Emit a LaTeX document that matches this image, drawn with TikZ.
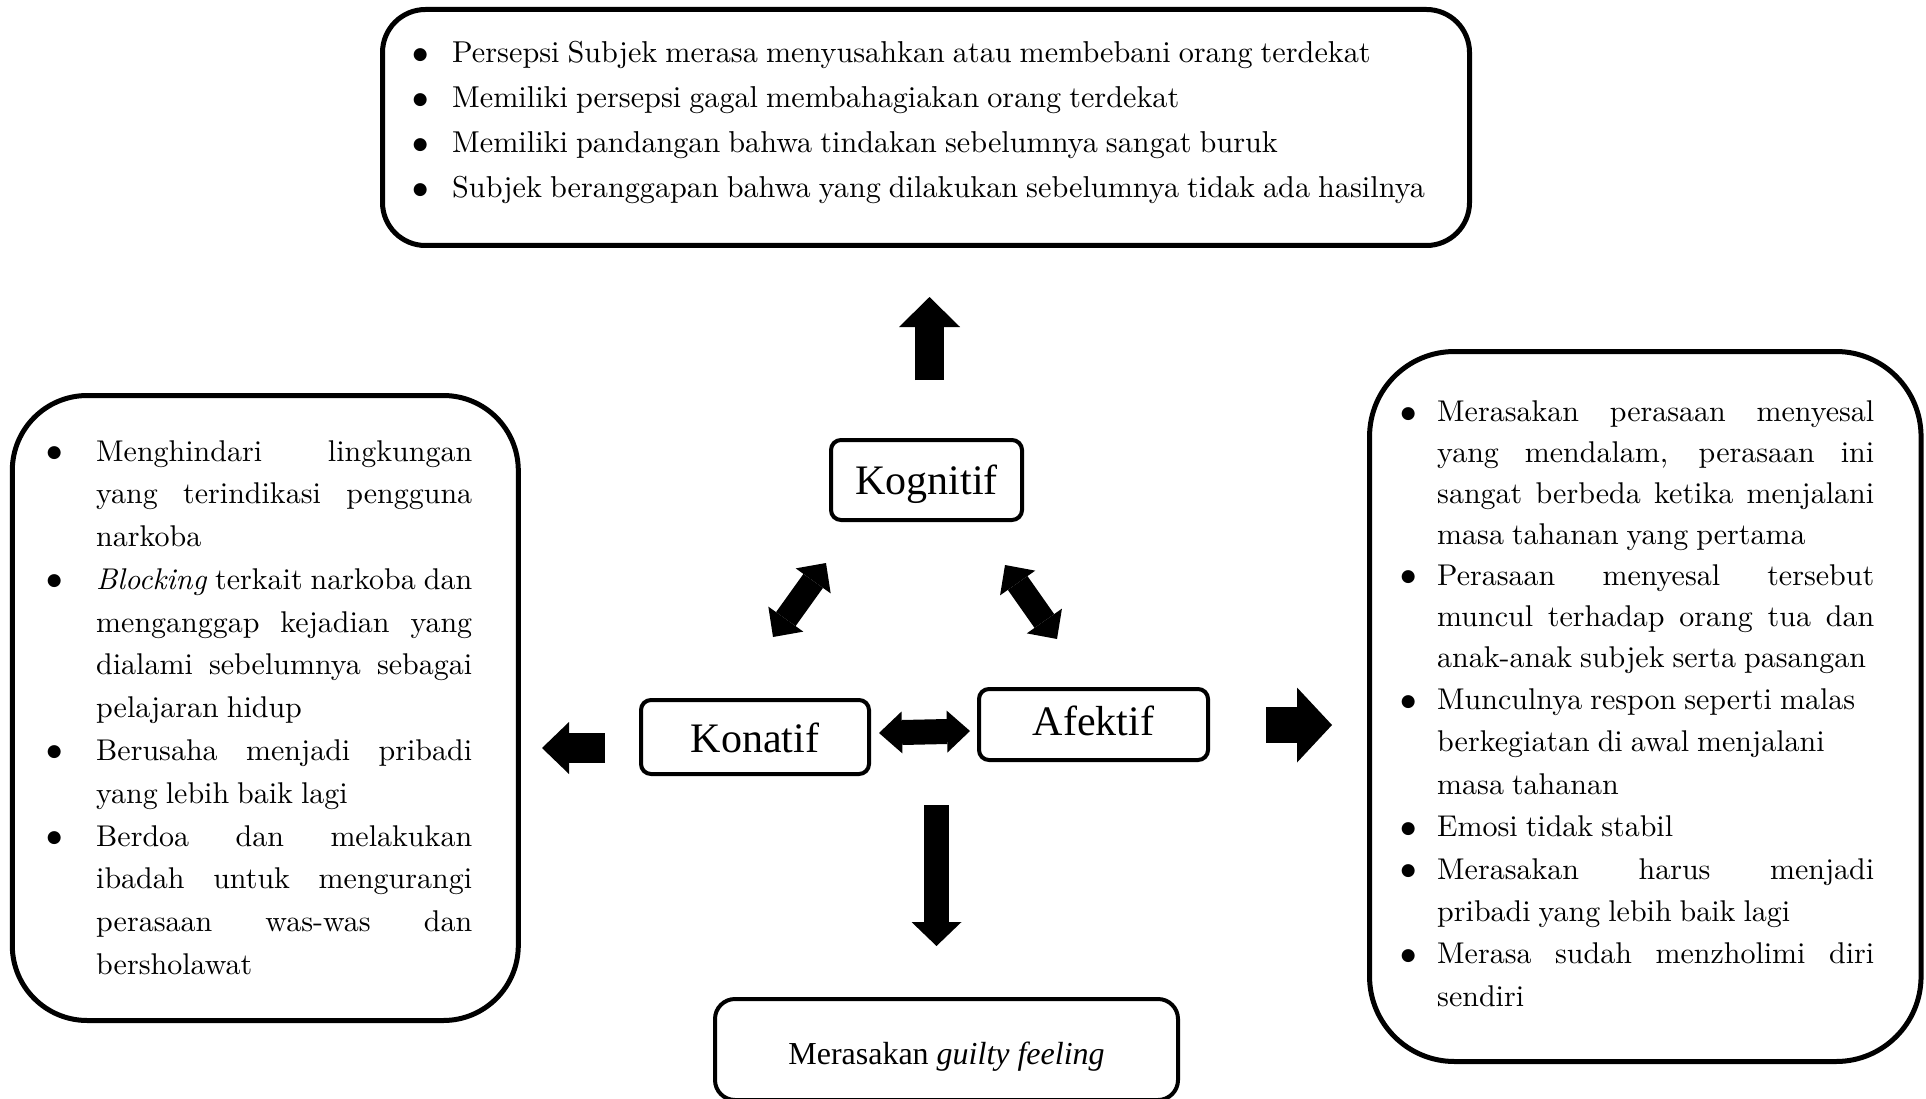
\documentclass[tikz,border=0pt]{standalone}
\usepackage{fontspec}
\setmainfont{lmroman10-regular.otf}[BoldFont=lmroman10-bold.otf,
  ItalicFont=lmroman10-italic.otf, WordSpace=0.8]
\newfontfamily\tms{Liberation Serif}
\newfontfamily\djv{DejaVu Sans}
\usetikzlibrary{arrows.meta}
\newcommand\bul[1]{\llap{\makebox[#1pt][c]{\raisebox{3.5pt}{\djv\fontsize{17}{17}\selectfont ●}}}}
\newcommand\jl[2]{\makebox[#1pt][s]{#2}}
\begin{document}
\begin{tikzpicture}[x=1pt,y=-1pt,
  bigbox/.style={draw, line width=5pt, inner sep=0pt},
  termbox/.style={draw, line width=4pt, rounded corners=10pt, inner sep=0pt,
    font=\tms\fontsize{42}{42}\selectfont, text depth=0pt},
  listtext/.style={inner sep=0pt, anchor=base west},
  barrow/.style n args={3}{line width=#1pt,
    -{Triangle[length=#2pt,width=#3pt,line width=0pt]}},
  dbarrow/.style n args={3}{line width=#1pt,
    {Triangle[length=#2pt,width=#3pt,line width=0pt]}-{Triangle[length=#2pt,width=#3pt,line width=0pt]}}
]
\useasboundingbox (0,0) rectangle (1926,1099);

% boxes
\node[bigbox, rounded corners=43pt, minimum width=1087pt, minimum height=236pt] (topbox) at (926,127.5) {};
\node[bigbox, rounded corners=75pt, minimum width=506pt, minimum height=625pt] (leftbox) at (265.3,708) {};
\node[bigbox, rounded corners=85pt, minimum width=551.5pt, minimum height=710pt] (rightbox) at (1645.3,706.5) {};

\node[termbox, minimum width=191pt, minimum height=80pt, text height=28pt] (kog) at (926.5,480) {Kognitif};
\node[termbox, minimum width=229pt, minimum height=71pt, text height=21pt] (afe) at (1093.5,724.5) {Afektif};
\node[termbox, minimum width=228pt, minimum height=74pt, text height=30pt] (kon) at (755,737) {Konatif};
\node[draw, line width=4pt, rounded corners=20pt, minimum width=463pt, minimum height=101pt,
  inner sep=0pt, font=\tms\fontsize{32}{32}\selectfont, text height=29pt, text depth=0pt]
  (guilty) at (946.5,1049.5) {Merasakan \textit{guilty feeling}};

% top list
\node[listtext] (toptext) at (452,63) {\fontsize{30.2}{45}\selectfont
\begin{tabular}[t]{@{}l@{}}
\bul{64}Persepsi Subjek merasa menyusahkan atau membebani orang terdekat\\
\bul{64}Memiliki persepsi gagal membahagiakan orang terdekat\\
\bul{64}Memiliki pandangan bahwa tindakan sebelumnya sangat buruk\\
\bul{64}Subjek beranggapan bahwa yang dilakukan sebelumnya tidak ada hasilnya
\end{tabular}};

% left list
\node[listtext] (lefttext) at (96,461) {\fontsize{30}{42.78}\selectfont
\begin{tabular}[t]{@{}l@{}}
\bul{84}\jl{376}{Menghindari lingkungan}\\
\jl{376}{yang terindikasi pengguna}\\
narkoba\\
\bul{84}\jl{376}{\textit{Blocking} terkait narkoba dan}\\
\jl{376}{menganggap kejadian yang}\\
\jl{376}{dialami sebelumnya sebagai}\\
pelajaran hidup\\
\bul{84}\jl{376}{Berusaha menjadi pribadi}\\
yang lebih baik lagi\\
\bul{84}\jl{376}{Berdoa dan melakukan}\\
\jl{376}{ibadah untuk mengurangi}\\
\jl{376}{perasaan was-was dan}\\
bersholawat
\end{tabular}};

% right list
\node[listtext] (righttext) at (1437,421.7) {\fontsize{30}{40.9}\selectfont
\begin{tabular}[t]{@{}l@{}}
\bul{58}\jl{437}{Merasakan perasaan menyesal}\\
\jl{437}{yang mendalam, perasaan ini}\\
\jl{437}{sangat berbeda ketika menjalani}\\
masa tahanan yang pertama\\
\bul{58}\jl{437}{Perasaan menyesal tersebut}\\
\jl{437}{muncul terhadap orang tua dan}\\
anak-anak subjek serta pasangan\\[1.5pt]
\bul{58}Munculnya respon seperti malas\\[1.5pt]
berkegiatan di awal menjalani\\[1.5pt]
masa tahanan\\[1.5pt]
\bul{58}Emosi tidak stabil\\[1.5pt]
\bul{58}\jl{437}{Merasakan harus menjadi}\\[1.5pt]
pribadi yang lebih baik lagi\\[1.5pt]
\bul{58}\jl{437}{Merasa sudah menzholimi diri}\\[1.5pt]
sendiri
\end{tabular}};

% arrow end points
\coordinate (upT) at (929.5,380);  \coordinate (upH) at (929.5,297);
\coordinate (dnT) at (936.5,805);  \coordinate (dnH) at (936.5,946);
\coordinate (lfT) at (605,748);    \coordinate (lfH) at (542,748);
\coordinate (rtT) at (1266,725);   \coordinate (rtH) at (1332,725);
\coordinate (hA) at (879,733);     \coordinate (hB) at (970,731);
\coordinate (dlA) at (773,637);    \coordinate (dlB) at (826,563);
\coordinate (drA) at (1005,565);   \coordinate (drB) at (1057,639);

\draw[barrow={29}{30}{61}] (upT) -- (upH);
\draw[barrow={25}{24}{50}] (dnT) -- (dnH);
\draw[barrow={30}{27}{52}] (lfT) -- (lfH);
\draw[barrow={36}{35}{75}] (rtT) -- (rtH);
\draw[dbarrow={25}{23}{42}] (hA) -- (hB);
\draw[dbarrow={24}{22}{43}] (dlA) -- (dlB);
\draw[dbarrow={24}{22}{43}] (drA) -- (drB);
\end{tikzpicture}
\end{document}
